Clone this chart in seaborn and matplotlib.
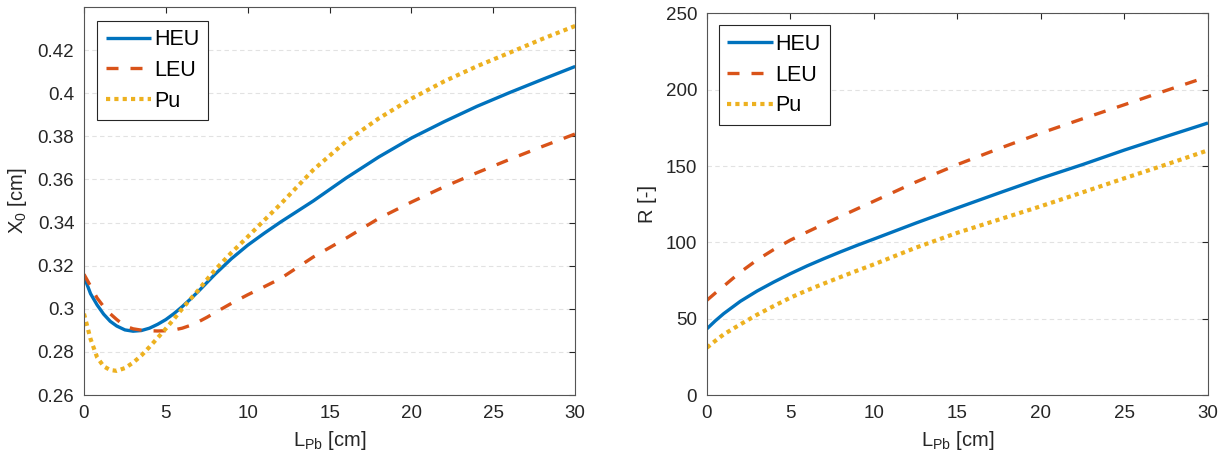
import numpy as np
import pandas as pd
import matplotlib
matplotlib.use("Agg")
import matplotlib.pyplot as plt
import seaborn as sns

# ---- data ----
fuels = ["HEU", "LEU", "Pu"]

# left panel: X0 [cm] vs L_Pb [cm]
x_left = [0, 0.4, 0.8, 1.2, 1.6, 2, 2.5, 3, 3.5, 4, 4.5, 5, 5.5, 6, 6.5, 7, 7.5, 8,
          9, 10, 11, 12, 14, 16, 18, 20, 22, 24, 26, 28, 30]
x0_heu = [0.3150, 0.3070, 0.3018, 0.2975, 0.2942, 0.2920, 0.2902, 0.2896, 0.2899, 0.2910,
          0.2928, 0.2950, 0.2978, 0.3010, 0.3045, 0.3082, 0.3121, 0.3160, 0.3232, 0.3295,
          0.3350, 0.3402, 0.3500, 0.3606, 0.3704, 0.3792, 0.3868, 0.3939, 0.4003, 0.4064, 0.4124]
x0_leu = [0.3160, 0.3105, 0.3050, 0.3010, 0.2977, 0.2950, 0.2920, 0.2907, 0.2901, 0.2898,
          0.2897, 0.2898, 0.2902, 0.2910, 0.2923, 0.2940, 0.2960, 0.2982, 0.3025, 0.3065,
          0.3102, 0.3140, 0.3240, 0.3327, 0.3419, 0.3495, 0.3566, 0.3631, 0.3693, 0.3753, 0.3811]
x0_pu = [0.2977, 0.2860, 0.2775, 0.2733, 0.2716, 0.2712, 0.2725, 0.2750, 0.2783, 0.2823,
         0.2865, 0.2908, 0.2953, 0.3000, 0.3045, 0.3088, 0.3135, 0.3180, 0.3260, 0.3334,
         0.3410, 0.3485, 0.3644, 0.3776, 0.3883, 0.3975, 0.4055, 0.4125, 0.4188, 0.4252, 0.4312]

# right panel: R [-] vs L_Pb [cm]
x_right = [0, 0.5, 1, 2, 3, 4, 5, 6, 7, 8, 9, 10, 12.5, 15, 17.5, 20, 22.5, 25, 27.5, 30]
r_heu = [43.4, 48.6, 53.3, 61.4, 68.1, 74.0, 79.5, 84.6, 89.3, 93.8, 98.1, 102.2,
         112.6, 122.6, 132.4, 142.0, 151.0, 160.5, 169.4, 178.2]
r_leu = [62.1, 66.8, 71.3, 80.5, 88.5, 95.3, 101.5, 106.8, 112.0, 117.0, 122.0, 127.0,
         139.5, 151.0, 161.5, 171.6, 181.0, 190.2, 199.5, 208.6]
r_pu = [31.0, 35.5, 39.7, 46.3, 52.6, 58.3, 63.8, 68.6, 73.0, 77.3, 81.5, 85.6,
        96.5, 106.3, 115.0, 123.7, 132.8, 142.0, 151.0, 160.3]

left_yticks = [0.26, 0.28, 0.30, 0.32, 0.34, 0.36, 0.38, 0.40, 0.42]
left_ylabels = ["0.26", "0.28", "0.3", "0.32", "0.34", "0.36", "0.38", "0.4", "0.42"]
right_yticks = [0, 50, 100, 150, 200, 250]
xticks = [0, 5, 10, 15, 20, 25, 30]


def long_df(x, series, col):
    parts = [pd.DataFrame({"L": x, col: vals, "fuel": f}) for f, vals in zip(fuels, series)]
    return pd.concat(parts, ignore_index=True)


df_x0 = long_df(x_left, [x0_heu, x0_leu, x0_pu], "X0")
df_r = long_df(x_right, [r_heu, r_leu, r_pu], "R")

# ---- style ----
sns.set_theme(style="white")
plt.rcParams["font.family"] = ["Liberation Sans", "DejaVu Sans"]
plt.rcParams["mathtext.default"] = "regular"
plt.rcParams["lines.dash_capstyle"] = "butt"
plt.rcParams["lines.solid_capstyle"] = "butt"

palette = {"HEU": "#0072BD", "LEU": "#D95319", "Pu": "#EDB120"}
dashes = {"HEU": "", "LEU": (3.6, 3.6), "Pu": (1, 1)}
sizes = {"HEU": 2.4, "LEU": 2.4, "Pu": 3.0}
txt = "#262626"

fig = plt.figure(figsize=(12.28, 4.62), dpi=100)
ax1 = fig.add_axes([0.0684, 0.145, 0.400, 0.839])
ax2 = fig.add_axes([0.5757, 0.145, 0.408, 0.826])

sns.lineplot(data=df_x0, x="L", y="X0", hue="fuel", style="fuel", size="fuel",
             palette=palette, dashes=dashes, sizes=sizes, ax=ax1, sort=False)
sns.lineplot(data=df_r, x="L", y="R", hue="fuel", style="fuel", size="fuel",
             palette=palette, dashes=dashes, sizes=sizes, ax=ax2, sort=False)

ax1.set_ylim(0.26, 0.4398)
ax1.set_yticks(left_yticks)
ax1.set_yticklabels(left_ylabels)
ax2.set_ylim(0, 250)
ax2.set_yticks(right_yticks)

legend_pos = {ax1: (0.0265, 0.966), ax2: (0.0234, 0.969)}
for ax in (ax1, ax2):
    ax.set_xlim(0, 30)
    ax.set_xticks(xticks)
    ax.set_xlabel("L$_{Pb}$ [cm]", fontsize=14.5, color=txt, labelpad=5)
    ax.yaxis.grid(True, linestyle=(0, (4, 3)), color="#e2e2e2", linewidth=0.8)
    ax.xaxis.grid(False)
    ax.tick_params(direction="in", length=4, width=0.8, colors=txt,
                   labelsize=13.5, top=True, right=True, pad=7)
    for sp in ax.spines.values():
        sp.set_color("#555555")
        sp.set_linewidth(0.8)
    handles, labels = ax.get_legend_handles_labels()
    leg = ax.legend(handles, labels, loc="upper left", bbox_to_anchor=legend_pos[ax],
                    borderaxespad=0, fontsize=15.5, handlelength=2.1, handletextpad=0.15,
                    labelspacing=0.45, borderpad=0.4, fancybox=False, framealpha=1,
                    edgecolor=txt)
    leg.get_frame().set_linewidth(0.8)
    for t in leg.get_texts():
        t.set_color("black")

ax1.set_ylabel("X$_0$ [cm]", fontsize=14.5, color=txt, labelpad=6)
ax2.set_ylabel("R [-]", fontsize=14.5, color=txt, labelpad=6)

fig.savefig("out.png", dpi=100)
